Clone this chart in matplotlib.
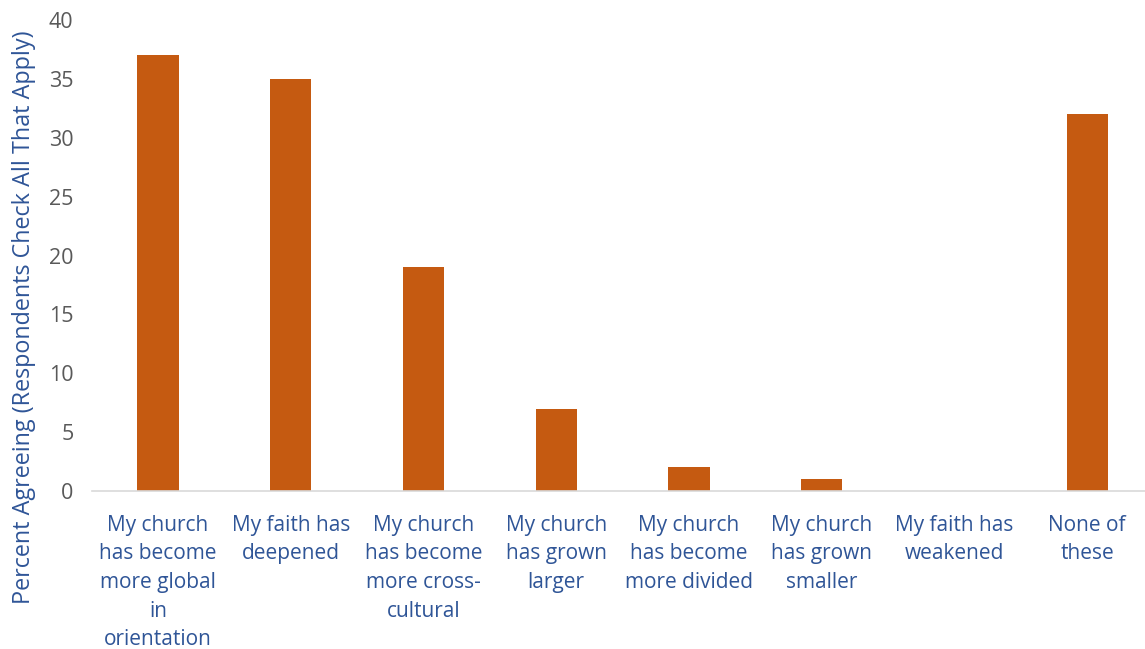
import matplotlib.pyplot as plt

categories = [
    "My church\nhas become\nmore global\nin\norientation",
    "My faith has\ndeepened",
    "My church\nhas become\nmore cross-\ncultural",
    "My church\nhas grown\nlarger",
    "My church\nhas become\nmore divided",
    "My church\nhas grown\nsmaller",
    "My faith has\nweakened",
    "None of\nthese",
]
percent = [37, 35, 19, 7, 2, 1, 0, 32]

plt.rcParams['font.family'] = ['Open Sans', 'DejaVu Sans']

fig = plt.figure(figsize=(11.45, 6.49), dpi=100)
ax = fig.add_axes([0.08, 0.2435, 0.9275, 0.7255])

x = range(len(categories))
ax.bar(x, percent, width=0.31, color="#C55A11")

ax.set_xlim(-0.5, len(categories) - 0.5)
ax.set_ylim(0, 40)
ax.set_yticks(range(0, 41, 5))
ax.set_xticks(list(x))
ax.set_xticklabels(categories, color="#2F5597", fontsize=15, linespacing=1.48)
ax.tick_params(axis="y", colors="#595959", labelsize=15.5, length=0, pad=13)
ax.tick_params(axis="x", length=0, pad=17)

for side in ["top", "right", "left"]:
    ax.spines[side].set_visible(False)
ax.spines["bottom"].set_color("#D9D9D9")
ax.spines["bottom"].set_linewidth(1.2)

ax.set_ylabel("Percent Agreeing (Respondents Check All That Apply)",
              color="#2F5597", fontsize=16.8)
ax.yaxis.set_label_coords(-0.052, 0.37)

fig.savefig("out.png", dpi=100)
